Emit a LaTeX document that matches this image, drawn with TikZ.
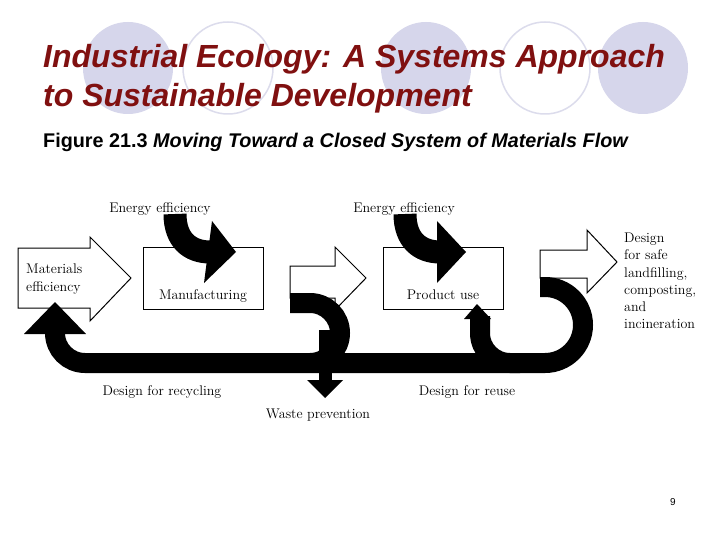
\documentclass[tikz,border=0pt]{standalone}
\usepackage{fontspec}
\setsansfont{Liberation Sans}
\begin{document}
\begin{tikzpicture}[x=1pt,y=-1pt,
  blk/.style={draw=black,line width=20pt},
  wbox/.style={draw=black,fill=white,line width=1pt},
  lbl/.style={font=\fontsize{14}{16}\selectfont,inner sep=0pt},
  ring/.style={draw=ringc,line width=1.5pt,fill=white}]
\definecolor{lavend}{HTML}{D6D6EB}
\definecolor{ringc}{HTML}{DCDCEC}
\definecolor{titlered}{HTML}{801010}
\useasboundingbox[fill=white] (0,0) rectangle (720,540);
% background circles
\fill[lavend] (128,68) ellipse (45 and 46);
\draw[ring] (228,68) ellipse (45 and 46);
\fill[lavend] (426,68) ellipse (45 and 46);
\draw[ring] (545,68) ellipse (45 and 46);
\fill[lavend] (643,68) ellipse (45 and 46);
% titles
\node[anchor=base west,inner sep=0pt,text=titlered,font=\sffamily\bfseries\itshape\fontsize{32}{36}\selectfont] (t1) at (43,68) {Industrial Ecology: A Systems Approach};
\node[anchor=base west,inner sep=0pt,text=titlered,font=\sffamily\bfseries\itshape\fontsize{32}{36}\selectfont] (t2) at (43,107) {to Sustainable Development};
\node[anchor=base west,inner sep=0pt,font=\sffamily\bfseries\fontsize{19.8}{22}\selectfont] (t3) at (43,148) {Figure 21.3 \itshape Moving Toward a Closed System of Materials Flow};
\node[anchor=base,inner sep=0pt,font=\sffamily\fontsize{10}{12}\selectfont] (pg) at (673,505) {9};
% white arrows
\draw[wbox] (18,248) -- (90,248) -- (90,237) -- (131,278) -- (90,321) -- (90,308) -- (18,308) -- cycle;
\draw[wbox] (290,266) -- (335,266) -- (335,247) -- (366,278) -- (335,310) -- (335,298) -- (290,298) -- cycle;
\draw[wbox] (540,250) -- (587,250) -- (587,230) -- (617,262) -- (587,293) -- (587,278) -- (540,278) -- cycle;
% boxes
\node[wbox,minimum width=120pt,minimum height=62pt,inner sep=0pt] (mf) at (203,278) {};
\node[wbox,minimum width=120pt,minimum height=62pt,inner sep=0pt] (pu) at (443,278) {};
\node[lbl,anchor=base] (mft) at (203,299) {Manufacturing};
\node[lbl,anchor=base] (put) at (443,299) {Product use};
\node[lbl,anchor=base west] (me) at (26,273) {Materials};
\node[lbl,anchor=base west] (me2) at (26,291) {efficiency};
% energy arrows
\draw[blk,line width=23pt] (175,214) .. controls (175,240) and (190,252) .. (210,252);
\fill (212,221) -- (236,252) -- (204,283) -- cycle;
\draw[blk,line width=23pt] (405,214) .. controls (405,240) and (420,252) .. (440,252);
\fill (437,221) -- (466,252) -- (437,283) -- cycle;
\node[lbl,anchor=base] (e1) at (160,212) {Energy efficiency};
\node[lbl,anchor=base] (e2) at (404,212) {Energy efficiency};
% waste prevention
\draw[line width=13pt] (325,330) -- (325,382);
\fill (307,380) -- (343,380) -- (325,398) -- cycle;
% loops
\draw[blk] (290,303) -- (310,303) arc(-90:90:30);
\draw[blk] (540,287) -- (545,287) arc(-90:90:38) -- (85,363) arc(90:180:30) -- (55,331);
\draw[blk] (480,316) -- (480,333) arc(180:90:30) -- (520,363);
\fill (24,334) -- (86,334) -- (55,302) -- cycle;
\fill (464,319) -- (491,319) -- (477,304) -- cycle;
% labels
\node[lbl,anchor=base] (dr) at (162,395) {Design for recycling};
\node[lbl,anchor=base] (du) at (467,395) {Design for reuse};
\node[lbl,anchor=base] (wp) at (318,418) {Waste prevention};
\node[lbl,anchor=north west,align=left,font=\fontsize{14}{17.2}\selectfont] (ds) at (624,233) {Design\\for safe\\landfilling,\\composting,\\and\\incineration};
\end{tikzpicture}
\end{document}
